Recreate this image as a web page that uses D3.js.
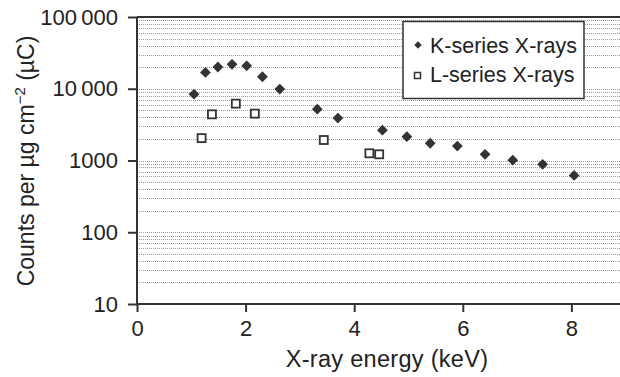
<!DOCTYPE html>
<html><head><meta charset="utf-8">
<script src="https://cdn.jsdelivr.net/npm/d3@7"></script>
<style>
body{margin:0;background:#fff;}
svg{display:block;font-family:"Liberation Sans",Arial,sans-serif;}
</style></head>
<body><svg id="c" width="620" height="377"></svg>
<script>
const kEnergy = [1.05,1.26,1.49,1.75,2.02,2.31,2.63,3.32,3.70,4.52,4.97,5.40,5.90,6.41,6.92,7.47,8.05];
const kCounts = [8400,16900,20100,21900,20900,14700,9900,5200,3900,2650,2150,1740,1590,1220,1010,885,620];
const lEnergy = [1.19,1.38,1.82,2.17,3.44,4.28,4.46];
const lCounts = [2050,4400,6200,4500,1930,1260,1220];
const yTicks = [10,100,1000,10000,100000];
const yTickLabels = ["10","100","1000","10\u2009000","100\u2009000"];
const xTicks = [0,2,4,6,8];
const seriesNames = ["K-series X-rays","L-series X-rays"];

const svg = d3.select("#c");
const m = {l:137, t:17, b:73};
const W = 620, H = 377;
const x = d3.scaleLinear().domain([0,9]).range([m.l, m.l + 9*54.3]);
const y = d3.scaleLog().domain([10,100000]).range([H-m.b, m.t]);
const ink = "#333";

// grid
const gridVals = [];
for (let d = 10; d < 100000; d *= 10) for (let k = 1; k <= 9; k++) { if (d*k > 10) gridVals.push(d*k); }
svg.append("g").selectAll("line").data(gridVals).join("line")
  .attr("x1", x(0)).attr("x2", x(9)).attr("y1", d => Math.round(y(d))+0.5).attr("y2", d => Math.round(y(d))+0.5)
  .attr("stroke", "#9a9a9a").attr("stroke-width", 1).attr("stroke-dasharray", "1,1");

// top border
svg.append("line").attr("x1", x(0)).attr("x2", x(9)).attr("y1", y(100000)).attr("y2", y(100000))
  .attr("stroke", ink).attr("stroke-width", 2);

// axes
const yAxis = d3.axisLeft(y).tickValues(yTicks).tickFormat((d,i) => yTickLabels[i]).tickSize(9).tickPadding(10);
const gy = svg.append("g").attr("transform", `translate(${x(0)},0)`).call(yAxis);
const xAxis = d3.axisBottom(x).tickValues(xTicks).tickSize(8).tickPadding(8);
const gx = svg.append("g").attr("transform", `translate(0,${y(10)})`).call(xAxis);
[gx, gy].forEach(g => {
  g.select(".domain").attr("stroke", ink).attr("stroke-width", 2);
  g.selectAll(".tick line").attr("stroke", ink).attr("stroke-width", 2);
  g.selectAll("text").attr("fill", "#222").style("font-size", "22px").style("font-family", "'Liberation Sans',Arial,sans-serif");
});
gx.select(".domain").attr("d", `M${x(0)},0H${W+10}`);
gy.select(".domain").attr("d", `M0,${y(10)}V${y(100000)}`);

// axis titles
svg.append("text").attr("x", 387).attr("y", 367).attr("text-anchor", "middle")
  .attr("fill", "#222").style("font-size", "23.5px").style("letter-spacing", "0.3px").text("X-ray energy (keV)");
const yl = svg.append("text").attr("transform", `translate(34,${161}) rotate(-90)`).attr("text-anchor", "middle")
  .attr("fill", "#222").style("font-size", "23px");
yl.append("tspan").text("Counts per \u00b5g cm");
yl.append("tspan").attr("dy", -9).style("font-size", "15px").text("\u22122");
yl.append("tspan").attr("dy", 9).text(" (\u00b5C)");

// markers
svg.append("g").selectAll("path").data(kEnergy.map((e,i) => [e, kCounts[i]])).join("path")
  .attr("transform", d => `translate(${x(d[0])},${y(d[1])}) rotate(45)`)
  .attr("d", d3.symbol().type(d3.symbolSquare).size(58)).attr("fill", ink);
svg.append("g").selectAll("rect").data(lEnergy.map((e,i) => [e, lCounts[i]])).join("rect")
  .attr("x", d => x(d[0]) - 4).attr("y", d => y(d[1]) - 4).attr("width", 8).attr("height", 8)
  .attr("fill", "#fff").attr("stroke", ink).attr("stroke-width", 1.8);

// legend
const lg = svg.append("g");
lg.append("rect").attr("x", 403).attr("y", 21.5).attr("width", 181).attr("height", 77)
  .attr("fill", "#fff").attr("stroke", ink).attr("stroke-width", 1.5);
lg.append("path").attr("transform", "translate(418,45) rotate(45)")
  .attr("d", d3.symbol().type(d3.symbolSquare).size(28)).attr("fill", ink);
lg.append("rect").attr("x", 414.5).attr("y", 72.5).attr("width", 6).attr("height", 6)
  .attr("fill", "#fff").attr("stroke", ink).attr("stroke-width", 1.5);
lg.selectAll("text").data(seriesNames).join("text")
  .attr("x", 430).attr("y", (d,i) => 53 + i*29).attr("fill", "#222").style("font-size", "21.5px").text(d => d);
</script></body></html>
